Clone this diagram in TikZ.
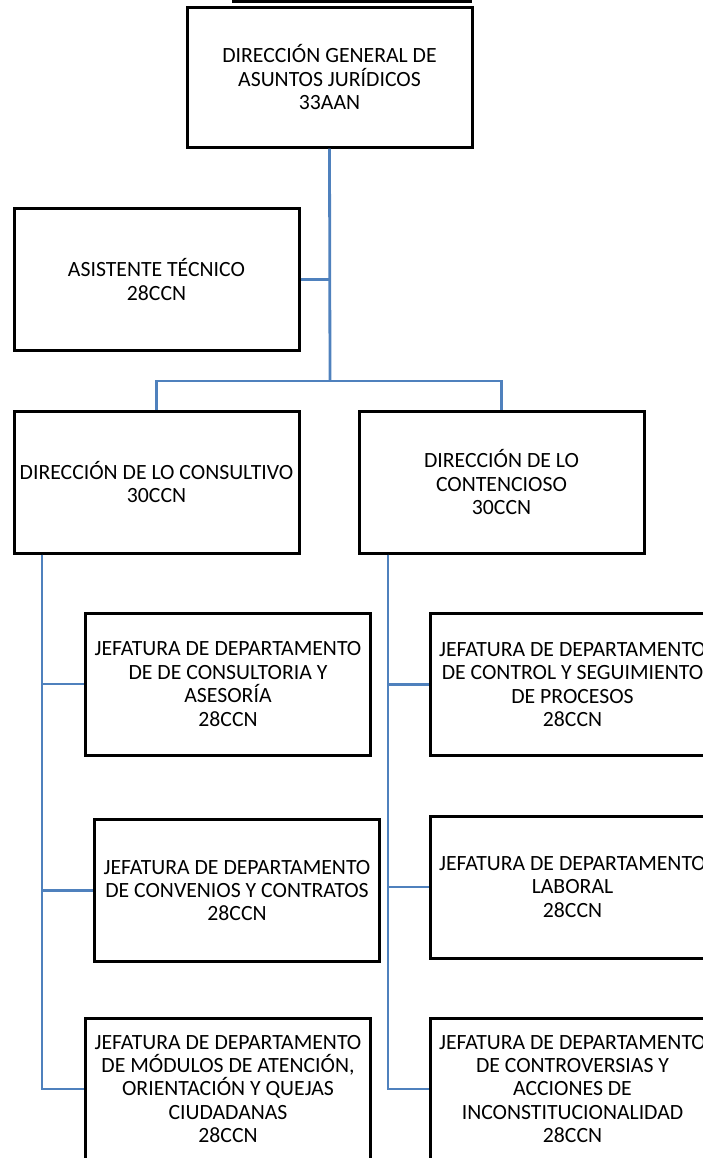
\documentclass[tikz,border=0pt]{standalone}
\usepackage{fontspec}
\setmainfont{Carlito}
\definecolor{linkblue}{HTML}{4F81BD}
\begin{document}
\begin{tikzpicture}[x=0.75pt,y=-0.75pt,
  box/.style={draw=black,line width=2.25pt,fill=white,rectangle,align=center,
    minimum width=213.75pt,minimum height=106.5pt,inner sep=1pt,
    font=\fontsize{16.3}{17.6}\selectfont},
  link/.style={draw=linkblue,line width=2.1pt}]
\path[use as bounding box] (0,0) rectangle (703,1158);
\clip (0,0) rectangle (703,1158);
% title underline (clipped title)
\coordinate (ulA) at (232,1.5);
\coordinate (ulB) at (472,1.5);
\draw[line width=2.6pt] (ulA) -- (ulB);
% nodes
\node[box,minimum height=105pt] (top) at (329.5,77) {DIRECCIÓN GENERAL DE\\ASUNTOS JURÍDICOS\\33AAN};
\node[box] (asis) at (156.5,279.5) {ASISTENTE TÉCNICO\\28CCN};
\node[box] (cons) at (156.5,482) {DIRECCIÓN DE LO CONSULTIVO\\30CCN};
\node[box] (cont) at (501.5,482) {DIRECCIÓN DE LO\\CONTENCIOSO\\30CCN};
\node[box] (jc1) at (228,684) {JEFATURA DE DEPARTAMENTO\\DE DE CONSULTORIA Y\\ASESORÍA\\28CCN};
\node[box] (jc2) at (237,890.5) {JEFATURA DE DEPARTAMENTO\\DE CONVENIOS Y CONTRATOS\\28CCN};
\node[box] (jc3) at (228,1089) {JEFATURA DE DEPARTAMENTO\\DE MÓDULOS DE ATENCIÓN,\\ORIENTACIÓN Y QUEJAS\\CIUDADANAS\\28CCN};
\node[box] (jt1) at (572.5,684.5) {JEFATURA DE DEPARTAMENTO\\DE CONTROL Y SEGUIMIENTO\\DE PROCESOS\\28CCN};
\node[box] (jt2) at (572.5,887) {JEFATURA DE DEPARTAMENTO\\LABORAL\\28CCN};
\node[box] (jt3) at (572.5,1089) {JEFATURA DE DEPARTAMENTO\\DE CONTROVERSIAS Y\\ACCIONES DE\\INCONSTITUCIONALIDAD\\28CCN};
% connector helpers
\coordinate (bar) at (330,381);
\coordinate (lv) at (42,0);
\coordinate (rv) at (388,0);
% connectors
\draw[link] (top.south) -- (bar);
\draw[link] (asis.east) -- (asis.east -| top.south);
\draw[link] (cons.north) |- (bar) -| (cont.north);
\draw[link] (cons.south -| lv) |- (jc1.west);
\draw[link] (cons.south -| lv) |- (jc2.west);
\draw[link] (cons.south -| lv) |- (jc3.west);
\draw[link] (cont.south -| rv) |- (jt1.west);
\draw[link] (cont.south -| rv) |- (jt2.west);
\draw[link] (cont.south -| rv) |- (jt3.west);
\end{tikzpicture}
\end{document}
